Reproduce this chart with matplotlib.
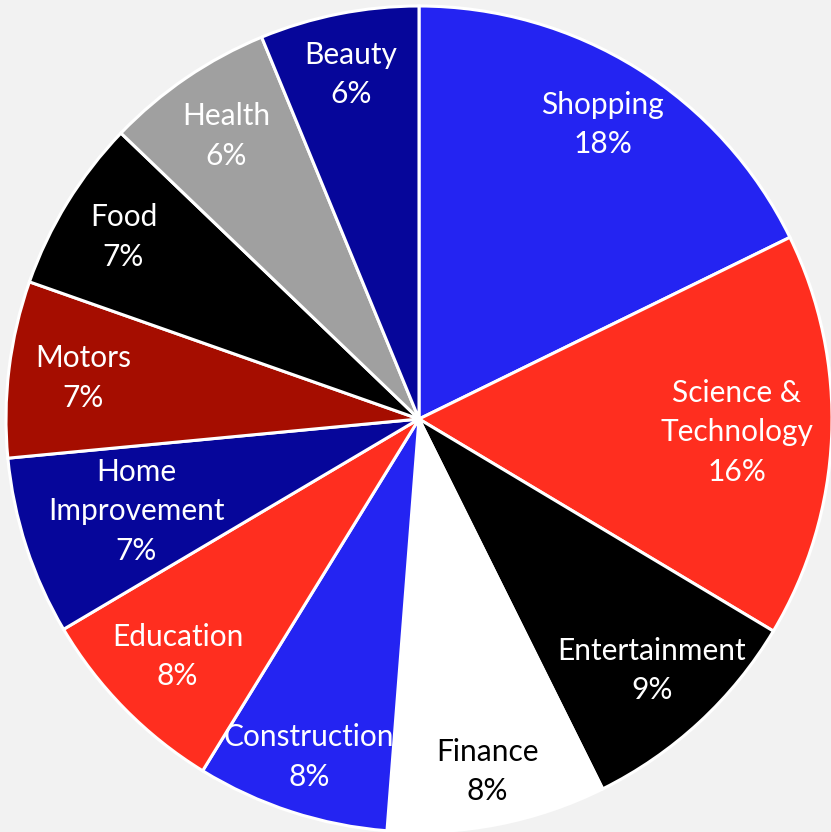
import numpy as np
import matplotlib.pyplot as plt

categories = ['Shopping', 'Science &\nTechnology', 'Entertainment', 'Finance', 'Construction',
              'Education', 'Home\nImprovement', 'Motors', 'Food', 'Health', 'Beauty']
shares = [17.75, 15.83, 9.08, 8.57, 7.54, 7.72, 6.99, 6.90, 6.78, 6.61, 6.22]
pct_labels = ['18%', '16%', '9%', '8%', '8%', '8%', '7%', '7%', '7%', '6%', '6%']

colors = ['#2424F2', '#FF2E1F', '#000000', '#FFFFFF', '#2424F2', '#FF2E1F',
          '#06069A', '#A50D00', '#000000', '#A0A0A0', '#06069A']
text_colors = ['white', 'white', 'white', 'black', 'white', 'white',
               'white', 'white', 'white', 'white', 'white']
label_dist = [0.84, 0.77, 0.83, 0.87, 0.86, 0.82, 0.72, 0.82, 0.84, 0.83, 0.85]

fig = plt.figure(figsize=(8.31, 8.32), dpi=100, facecolor='#F2F2F2')
# pie centre at (419, 419) px, radius ~413 px
r_px = 413
ax = fig.add_axes([(419 - r_px) / 831, (832 - 419 - r_px) / 832, 2 * r_px / 831, 2 * r_px / 832])
ax.set_facecolor('#F2F2F2')

wedges, _ = ax.pie(shares, colors=colors, startangle=90, counterclock=False,
                   wedgeprops=dict(edgecolor='white', linewidth=2.2))

for w, name, pct, tc, d in zip(wedges, categories, pct_labels, text_colors, label_dist):
    mid = np.deg2rad((w.theta1 + w.theta2) / 2)
    ax.text(d * np.cos(mid), d * np.sin(mid), name + '\n' + pct, ha='center', va='center',
            color=tc, fontsize=21.5, family='Lato', linespacing=1.5)

ax.set_xlim(-1, 1)
ax.set_ylim(-1, 1)
ax.set_aspect('equal')
ax.axis('off')

fig.savefig('out.png', dpi=100, facecolor=fig.get_facecolor())
